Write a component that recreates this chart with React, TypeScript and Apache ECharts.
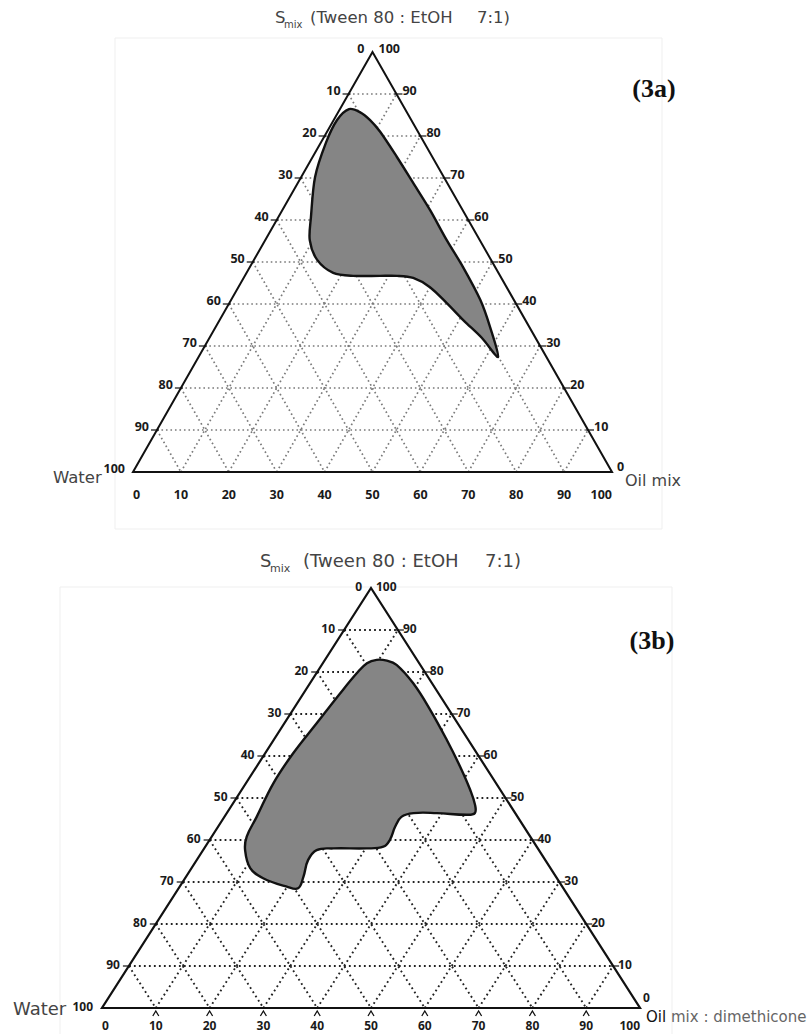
import React, { useEffect, useRef } from "react";
import * as echarts from "echarts";

// ---- data -------------------------------------------------------------
const TICKS = [0, 10, 20, 30, 40, 50, 60, 70, 80, 90, 100];
const GRID_LEVELS = [10, 20, 30, 40, 50, 60, 70, 80, 90];

// Nanoemulsion region (3a): Smix % and Oil % along the boundary (Water = 100 - Smix - Oil)
const SMIX_3A = [86.4, 85.7, 83.8, 81.0, 75.0, 69.0, 62.4, 55.2, 48.8, 41.0, 34.5, 27.4, 31.9, 36.0, 40.2, 44.0, 46.2, 46.7, 46.7, 46.7, 47.4, 50.5, 55.2, 60.7, 70.2, 78.3, 83.8];
const OIL_3A = [1.9, 4.5, 7.6, 11.1, 17.6, 23.9, 30.8, 37.9, 44.5, 52.0, 57.3, 62.5, 56.9, 51.1, 45.4, 40.0, 35.4, 31.8, 28.2, 22.6, 18.1, 13.2, 9.3, 6.8, 2.9, 1.1, 0.7];

// Nanoemulsion region (3b)
const SMIX_3B = [82.9, 82.7, 81.7, 77.3, 71.0, 63.8, 57.5, 51.9, 48.3, 46.4, 46.0, 46.4, 46.4, 45.5, 43.2, 40.0, 38.4, 38.0, 38.0, 37.6, 35.2, 31.3, 28.5, 28.9, 30.9, 33.3, 37.6, 40.8, 45.5, 53.5, 60.6, 67.8, 74.9, 79.7, 82.1];
const OIL_3B = [9.6, 11.6, 13.9, 19.2, 25.5, 32.2, 37.8, 42.5, 45.2, 46.1, 44.8, 39.0, 34.7, 32.9, 32.9, 33.5, 33.1, 30.2, 24.0, 21.1, 20.7, 21.8, 22.2, 19.9, 14.5, 10.9, 7.8, 6.5, 6.0, 5.1, 5.2, 6.0, 6.8, 7.5, 8.2];

const TITLE_S = "S";
const TITLE_SUB = "mix";
const TITLE_MAIN = "(Tween 80 : EtOH";
const TITLE_RATIO = "7:1)";
const LABEL_A = "(3a)";
const LABEL_B = "(3b)";
const NAME_WATER = "Water";
const NAME_OIL_A = "Oil mix";
const NAME_OIL_B1 = "Oil";
const NAME_OIL_B2 = "mix : dimethicone";

// ternary (Smix top, Oil right, Water left) -> cartesian data coords
const toXY = (smix: number, oil: number): [number, number] => [oil + smix / 2, smix];

type PanelCfg = {
  idx: number;
  smix: number[];
  oil: number[];
  smooth: number;
  gridColor: string;
  gridWidth: number;
  gridDash: number[];
  edgeWidth: number;
  leftDx: number;
  leftDy: number;
  rightDx: number;
  rightDy: number;
  cornerDx: number;
  cornerDy: number;
  bottomDy: number;
  labelSize: number;
  carets: boolean;
};

const TICK_FONT = "Noto Sans";

function panelSeries(c: PanelCfg): any[] {
  const segs: number[][] = [];
  GRID_LEVELS.forEach((k) => {
    segs.push([...toXY(k, 0), ...toXY(k, 100 - k)]);
    segs.push([...toXY(100 - k, 0), ...toXY(0, 100 - k)]);
    segs.push([...toXY(0, k), ...toXY(100 - k, k)]);
  });

  type Lab = { pos: [number, number]; text: string; align: string; dx: number; dy: number };
  const labels: Lab[] = [];
  TICKS.forEach((w) => labels.push({ pos: toXY(100 - w, 0), text: String(w), align: "right", dx: c.leftDx, dy: c.leftDy }));
  TICKS.forEach((s) =>
    labels.push({
      pos: toXY(s, 100 - s),
      text: String(s),
      align: "left",
      dx: s === 0 ? c.cornerDx : c.rightDx,
      dy: s === 0 ? c.cornerDy : c.rightDy,
    })
  );
  TICKS.forEach((b) =>
    labels.push({ pos: toXY(0, b), text: String(b), align: b === 0 ? "left" : b === 100 ? "right" : "center", dx: 0, dy: c.bottomDy })
  );

  type Tk = { pos: [number, number]; kind: string };
  const ticks: Tk[] = [];
  GRID_LEVELS.forEach((w) => ticks.push({ pos: toXY(100 - w, 0), kind: "left" }));
  GRID_LEVELS.forEach((s) => ticks.push({ pos: toXY(s, 100 - s), kind: "right" }));
  if (c.carets) GRID_LEVELS.forEach((b) => ticks.push({ pos: toXY(0, b), kind: "bottom" }));

  const region = c.smix.map((s, i) => toXY(s, c.oil[i]));
  const axes = { xAxisIndex: c.idx, yAxisIndex: c.idx, coordinateSystem: "cartesian2d", silent: true };

  return [
    {
      type: "custom",
      ...axes,
      z: 1,
      data: segs,
      encode: { x: [0, 2], y: [1, 3] },
      renderItem: (params: any, api: any) => {
        const p1 = api.coord([api.value(0), api.value(1)]);
        const p2 = api.coord([api.value(2), api.value(3)]);
        return {
          type: "line",
          shape: { x1: p1[0], y1: p1[1], x2: p2[0], y2: p2[1] },
          style: { stroke: c.gridColor, lineWidth: c.gridWidth, lineDash: c.gridDash, fill: null },
        };
      },
    },
    {
      type: "custom",
      ...axes,
      z: 3,
      data: [[50, 50]],
      renderItem: (params: any, api: any) => {
        const pts = region.map((p) => api.coord(p));
        return {
          type: "polygon",
          shape: { points: pts, smooth: c.smooth },
          style: { fill: "#858585", stroke: "#111111", lineWidth: 2.4 },
        };
      },
    },
    {
      type: "custom",
      ...axes,
      z: 4,
      data: [[50, 50]],
      renderItem: (params: any, api: any) => {
        const pts = [toXY(0, 0), toXY(0, 100), toXY(100, 0)].map((p) => api.coord(p));
        return {
          type: "polygon",
          shape: { points: pts },
          style: { fill: "none", stroke: "#111111", lineWidth: c.edgeWidth, lineJoin: "miter" },
        };
      },
    },
    {
      type: "custom",
      ...axes,
      z: 4,
      data: ticks.map((t) => t.pos),
      renderItem: (params: any, api: any) => {
        const t = ticks[params.dataIndex];
        const p = api.coord(t.pos);
        if (t.kind === "bottom") {
          return {
            type: "polyline",
            shape: { points: [[p[0] - 3, p[1] + 8], [p[0], p[1] + 3], [p[0] + 3, p[1] + 8]] },
            style: { stroke: "#111", lineWidth: 1.3, fill: null },
          };
        }
        const x1 = t.kind === "left" ? p[0] - 6 : p[0] - 2;
        const x2 = t.kind === "left" ? p[0] + 2 : p[0] + 6;
        return {
          type: "line",
          shape: { x1, y1: p[1], x2, y2: p[1] },
          style: { stroke: "#111", lineWidth: 1.2 },
        };
      },
    },
    {
      type: "custom",
      ...axes,
      z: 5,
      data: labels.map((l) => l.pos),
      renderItem: (params: any, api: any) => {
        const l = labels[params.dataIndex];
        const p = api.coord(l.pos);
        return {
          type: "text",
          x: p[0] + l.dx,
          y: p[1] + l.dy,
          style: {
            text: l.text,
            fill: "#1a1a1a",
            fontSize: c.labelSize,
            fontWeight: "bold",
            fontFamily: TICK_FONT,
            align: l.align,
            verticalAlign: "middle",
          },
        };
      },
    },
  ];
}

const cfgA: PanelCfg = {
  idx: 0,
  smix: SMIX_3A,
  oil: OIL_3A,
  smooth: 0.3,
  gridColor: "#7a7a7a",
  gridWidth: 1.7,
  gridDash: [1.6, 2.9],
  edgeWidth: 2,
  leftDx: -8,
  leftDy: -4,
  rightDx: 6,
  rightDy: -4,
  cornerDx: 5,
  cornerDy: -6,
  bottomDy: 22,
  labelSize: 12.5,
  carets: false,
};

const cfgB: PanelCfg = {
  idx: 1,
  smix: SMIX_3B,
  oil: OIL_3B,
  smooth: 0.4,
  gridColor: "#222222",
  gridWidth: 1.9,
  gridDash: [1.8, 3.2],
  edgeWidth: 2.2,
  leftDx: -9,
  leftDy: -2,
  rightDx: 5,
  rightDy: -2,
  cornerDx: 3,
  cornerDy: -11,
  bottomDy: 17,
  labelSize: 12,
  carets: true,
};

const txt = (x: number, y: number, text: string, size: number, extra: any = {}) => ({
  type: "text",
  x,
  y,
  z: 10,
  style: {
    text,
    fill: extra.fill || "#444444",
    fontSize: size,
    fontFamily: extra.family || "DejaVu Sans",
    fontWeight: extra.weight || "normal",
    align: extra.align || "left",
    verticalAlign: "middle",
  },
});

export default function App() {
  const ref = useRef<HTMLDivElement>(null);
  useEffect(() => {
    if (!ref.current) return;
    const chart = echarts.init(ref.current, null, { renderer: "svg" });
    const axisBase = { type: "value", min: 0, max: 100, show: false };
    const option: any = {
      animation: false,
      backgroundColor: "#ffffff",
      grid: [
        { left: 133, top: 52, width: 479, height: 420 },
        { left: 102, top: 588, width: 538, height: 420 },
      ],
      xAxis: [{ ...axisBase, gridIndex: 0 }, { ...axisBase, gridIndex: 1 }],
      yAxis: [{ ...axisBase, gridIndex: 0 }, { ...axisBase, gridIndex: 1 }],
      series: [...panelSeries(cfgA), ...panelSeries(cfgB)],
      graphic: [
        { type: "rect", z: 0, shape: { x: 115, y: 38, width: 547, height: 491 }, style: { fill: "none", stroke: "#efefef", lineWidth: 1 } },
        { type: "rect", z: 0, shape: { x: 60, y: 587, width: 612, height: 470 }, style: { fill: "none", stroke: "#efefef", lineWidth: 1 } },
        // titles
        txt(275, 17, TITLE_S, 16.5),
        txt(284, 24, TITLE_SUB, 10),
        txt(310, 17, TITLE_MAIN, 16.5),
        txt(477, 17, TITLE_RATIO, 16.5),
        txt(260, 560, TITLE_S, 18),
        txt(270, 568, TITLE_SUB, 11),
        txt(303, 560, TITLE_MAIN, 18),
        txt(485, 560, TITLE_RATIO, 18),
        // panel labels
        txt(654, 88, LABEL_A, 26, { family: "Liberation Serif", weight: "bold", fill: "#111", align: "center" }),
        txt(652, 640, LABEL_B, 26, { family: "Liberation Serif", weight: "bold", fill: "#111", align: "center" }),
        // vertex names
        txt(53, 477, NAME_WATER, 16.5),
        txt(625, 480, NAME_OIL_A, 16),
        txt(13, 1008, NAME_WATER, 18),
        txt(646, 1017, NAME_OIL_B1, 15, { fill: "#111" }),
        txt(671, 1017, NAME_OIL_B2, 15, { fill: "#666" }),
      ],
    };
    chart.setOption(option);
    return () => chart.dispose();
  }, []);
  return <div ref={ref} style={{ position: "absolute", left: 0, top: 0, width: 812, height: 1034 }} />;
}
